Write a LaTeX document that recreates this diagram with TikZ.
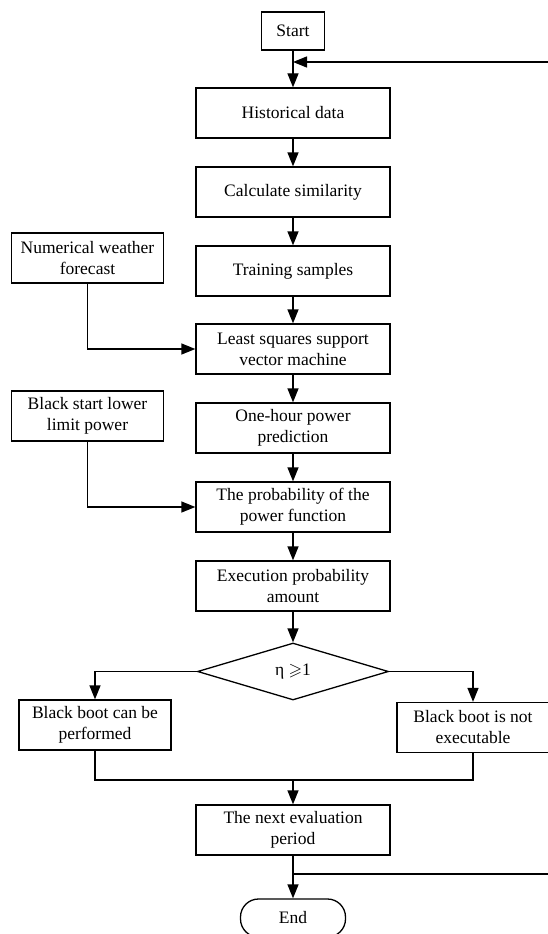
\documentclass[tikz,border=0pt]{standalone}
\usepackage{amssymb}
\usepackage{fontspec}
\setmainfont{Liberation Serif}
\usetikzlibrary{arrows.meta,shapes.geometric}
\tikzset{
  box/.style={draw, line width=1.3pt, minimum width=194pt, minimum height=50pt, align=center, inner sep=2pt},
  sidebox/.style={box, minimum width=152pt},
  arr/.style={line width=1.3pt, -{Triangle[length=14pt,width=11pt]}},
  ln/.style={line width=1.3pt}
}
\begin{document}
\begin{tikzpicture}[x=1pt, y=-1pt, font=\fontsize{17.5}{21}\selectfont]
   \useasboundingbox (0,0) rectangle (548,934);
   % main column
   \node[box, minimum width=63pt, minimum height=38pt] (start) at (293,31) {Start};
   \node[box] (hist) at (293,113) {Historical data};
   \node[box] (calc) at (293,192) {Calculate similarity};
   \node[box] (train) at (293,271) {Training samples};
   \node[box] (lssvm) at (293,349) {Least squares support\\vector machine};
   \node[box] (onehour) at (293,428) {One-hour power\\prediction};
   \node[box] (prob) at (293,507) {The probability of the\\power function};
   \node[box] (exec) at (293,586) {Execution probability\\amount};
   \node[draw, ln, diamond, minimum width=191pt, minimum height=57pt, inner sep=0pt] (dec) at (293,671.5) {η $\geqslant$1};
   \node[box] (next) at (293,830) {The next evaluation\\period};
   \node[draw, ln, rounded corners=18pt, minimum width=105pt, minimum height=38pt] (end) at (293,918) {End};
   % side inputs and branches
   \node[sidebox] (nwf) at (87.5,258) {Numerical weather\\forecast};
   \node[sidebox] (bsll) at (87.5,416) {Black start lower\\limit power};
   \node[sidebox] (perf) at (95,725) {Black boot can be\\performed};
   \node[sidebox] (notexec) at (473,727.5) {Black boot is not\\executable};
   \coordinate (fbin) at (293,62);
   \coordinate (fbout) at (293,874);
   \coordinate (merge) at (293,780);

   \draw[arr] (start) -- (hist);
   \draw[arr] (hist) -- (calc);
   \draw[arr] (calc) -- (train);
   \draw[arr] (train) -- (lssvm);
   \draw[arr] (lssvm) -- (onehour);
   \draw[arr] (onehour) -- (prob);
   \draw[arr] (prob) -- (exec);
   \draw[arr] (exec) -- (dec);
   \draw[arr] (nwf.south) |- (lssvm.west);
   \draw[arr] (bsll.south) |- (prob.west);
   \draw[arr] (dec.west) -| (perf.north);
   \draw[arr] (dec.east) -| (notexec.north);
   \draw[ln] (perf.south) |- (merge) -| (notexec.south);
   \draw[arr] (merge) -- (next);
   \draw[arr] (next) -- (end);
   % loop back to the top
   \draw[arr] (fbout) -- ++(267,0) |- (fbin);
\end{tikzpicture}
\end{document}
